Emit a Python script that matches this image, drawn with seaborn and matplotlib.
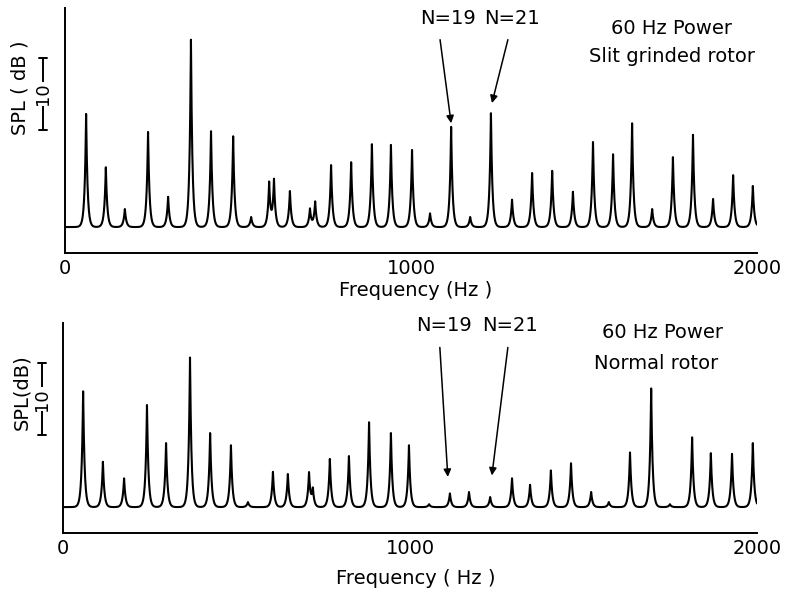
import numpy as np
import pandas as pd
import seaborn as sns
import matplotlib as mpl
import matplotlib.pyplot as plt
import matplotlib.transforms as mtrans

sns.set_style("white")
mpl.rcParams['font.family'] = ['DejaVu Sans']
mpl.rcParams['axes.edgecolor'] = 'black'
mpl.rcParams['axes.linewidth'] = 1.4
mpl.rcParams['text.color'] = 'black'
mpl.rcParams['xtick.color'] = 'black'
mpl.rcParams['axes.labelcolor'] = 'black'

# peak positions (Hz) and heights above the floor (dB)
slit_freq = [61, 118, 173, 240, 298, 364, 422, 486, 538, 590, 604, 650, 708, 723,
             769, 827, 887, 942, 1003, 1055, 1116, 1171, 1231, 1292, 1350, 1408,
             1468, 1526, 1584, 1639, 1697, 1757, 1815, 1873, 1931, 1988]
slit_db = [15.7, 8.3, 2.5, 13.2, 4.2, 26.0, 13.3, 12.6, 1.4, 6.1, 6.5, 5.0, 2.5, 3.5,
           8.6, 9.0, 11.5, 11.4, 10.7, 1.9, 13.9, 1.4, 15.8, 3.8, 7.5, 7.8,
           4.9, 11.8, 10.1, 14.4, 2.5, 9.7, 12.8, 3.9, 7.2, 5.7]

normal_freq = [58, 115, 176, 242, 297, 366, 424, 484, 533, 605, 648, 709, 720,
               769, 824, 882, 945, 997, 1055, 1115, 1170, 1231, 1294, 1346, 1406,
               1464, 1522, 1573, 1634, 1695, 1749, 1813, 1867, 1928, 1988]
normal_db = [16.1, 6.3, 4.0, 14.2, 8.9, 20.8, 10.3, 8.6, 0.7, 4.9, 4.6, 4.7, 2.4,
             6.7, 7.1, 11.8, 10.3, 8.6, 0.4, 1.9, 2.1, 1.4, 4.0, 3.1, 5.1,
             6.1, 2.1, 0.7, 7.6, 16.5, 0.4, 9.7, 7.5, 7.4, 8.9]

xticks = [0, 1000, 2000]
peak_width = 4.2  # Hz


def spectrum(freqs, levels):
    f = np.arange(0, 2000.5, 0.5)
    spl = np.zeros_like(f)
    for f0, h in zip(freqs, levels):
        spl += h * np.exp(-np.abs(f - f0) / peak_width)
    return pd.DataFrame({"Frequency": f, "SPL": spl})


fig = plt.figure(figsize=(7.87, 5.94), dpi=100)
ax1 = fig.add_axes([65 / 787, 1 - 253 / 594, 692 / 787, 245 / 594])
ax2 = fig.add_axes([63 / 787, 1 - 533 / 594, 694 / 787, 210 / 594])

panels = [
    (ax1, spectrum(slit_freq, slit_db), (-3.6, 30.4), "Frequency (Hz )",
     "SPL ( dB )", (20, 88), (13.5, 23.5), -0.032,
     ["60 Hz Power", "Slit grinded rotor"], [(1754, 27.5), (1754, 23.6)],
     [((1107, 29.0), (1084, 26.0), (1116, 14.4)),
      ((1292, 29.0), (1280, 26.0), (1234, 17.2))], 290),
    (ax2, spectrum(normal_freq, normal_db), (-3.6, 25.6), "Frequency ( Hz )",
     "SPL(dB)", (22, 392), (10.0, 20.0), -0.030,
     ["60 Hz Power", "Normal rotor"], [(1729, 24.3), (1709, 20.0)],
     [((1098, 25.3), (1086, 22.2), (1109, 4.2)),
      ((1288, 25.3), (1282, 22.2), (1236, 4.4))], 578),
]

for (ax, df, ylim, xlabel, ylabel, ylab_xy, bar, bar_x, titles, title_xy,
     arrows, xlab_y) in panels:
    sns.lineplot(data=df, x="Frequency", y="SPL", ax=ax, color="black", lw=1.5)
    ax.set_xlim(0, 2000)
    ax.set_ylim(*ylim)
    ax.set_xticks(xticks)
    ax.set_xticklabels([str(t) for t in xticks], fontsize=14)
    ax.set_yticks([])
    ax.tick_params(axis="x", direction="in", length=6, width=1.4, pad=4)
    ax.set_xlabel("")
    ax.set_ylabel("")
    sns.despine(ax=ax)
    fig.text(416 / 787, 1 - xlab_y / 594, xlabel, ha="center", va="center", fontsize=14)
    fig.text(ylab_xy[0] / 787, 1 - ylab_xy[1] / 594, ylabel, rotation=90,
             ha="center", va="center", fontsize=14)

    # 10 dB scale bar
    tr = mtrans.blended_transform_factory(ax.transAxes, ax.transData)
    ax.plot([bar_x, bar_x], bar, color="black", lw=1.4, transform=tr, clip_on=False)
    for yy in bar:
        ax.plot([bar_x - 0.006, bar_x + 0.006], [yy, yy], color="black", lw=1.4,
                transform=tr, clip_on=False)
    ax.text(bar_x, (bar[0] + bar[1]) / 2, "10", rotation=90, ha="center", va="center",
            fontsize=13, transform=tr,
            bbox=dict(facecolor="white", edgecolor="none", pad=0.5))

    for t, (tx, ty) in zip(titles, title_xy):
        ax.text(tx, ty, t, ha="center", va="center", fontsize=14, clip_on=False)

    for label, (txt_xy, start, tip) in zip(["N=19", "N=21"], arrows):
        ax.text(txt_xy[0], txt_xy[1], label, ha="center", va="center", fontsize=14,
                clip_on=False)
        ax.annotate("", xy=tip, xytext=start, annotation_clip=False,
                    arrowprops=dict(arrowstyle="-|>", color="black", lw=1.1,
                                    mutation_scale=11, shrinkA=0, shrinkB=0))

fig.savefig("out.png", dpi=100, facecolor="white")
